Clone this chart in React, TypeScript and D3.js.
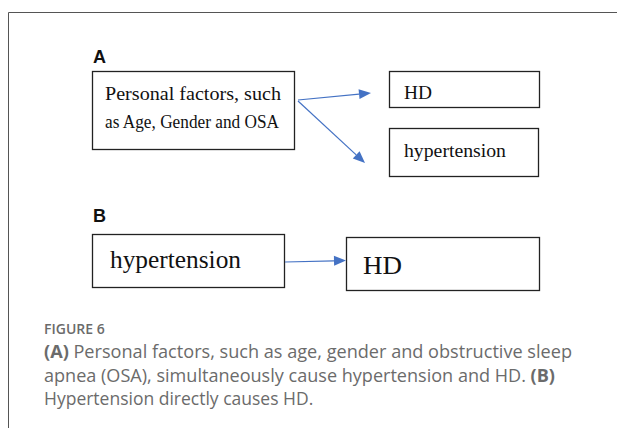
import React, { useEffect, useRef } from 'react';
import * as d3 from 'd3';

// diagram content
const panelLabels = ['A', 'B'];
const factorLines = ['Personal factors, such', 'as Age, Gender and OSA'];
const outcomeLabels = ['HD', 'hypertension'];
const panelBLabels = ['hypertension', 'HD'];
const figureTitle = 'FIGURE 6';
const captionLines = [
  [{ t: '(A)', b: true }, { t: ' Personal factors, such as age, gender and obstructive sleep', b: false }],
  [{ t: 'apnea (OSA), simultaneously cause hypertension and HD. ', b: false }, { t: '(B)', b: true }],
  [{ t: 'Hypertension directly causes HD.', b: false }],
];

// layout (pixels)
const W = 617;
const H = 428;
const BLUE = '#4472C4';
const INK = '#222';
const GREY = '#6b6b6b';

const App = () => {
  const svgRef = useRef<SVGSVGElement>(null);

  useEffect(() => {
    const svg = d3.select(svgRef.current);
    svg.selectAll('*').remove();

    // outer frame (top + left rule)
    svg.append('path')
      .attr('d', `M617,12.5H8.5V428`)
      .attr('fill', 'none')
      .attr('stroke', '#555')
      .attr('stroke-width', 1);

    // panel letters
    const labelY = [63, 222];
    svg.selectAll('.panel')
      .data(panelLabels)
      .enter()
      .append('text')
      .attr('x', 93)
      .attr('y', (d, i) => labelY[i])
      .attr('font-family', 'Liberation Sans, Arial, sans-serif')
      .attr('font-weight', 'bold')
      .attr('font-size', 18)
      .attr('fill', '#111')
      .text(d => d);

    const box = (x, y, w, h) => svg.append('rect')
      .attr('x', x).attr('y', y).attr('width', w).attr('height', h)
      .attr('fill', '#fff').attr('stroke', INK).attr('stroke-width', 1.3);

    const label = (s, x, y, size, len) => svg.append('text')
      .attr('x', x).attr('y', y)
      .attr('font-family', 'Liberation Serif, Times New Roman, serif')
      .attr('font-size', size)
      .attr('fill', '#111')
      .attr('textLength', len)
      .attr('lengthAdjust', 'spacingAndGlyphs')
      .text(s);

    // panel A
    box(92.5, 71.5, 202, 78);
    const factorY = [100, 128];
    const factorLen = [176, 174];
    factorLines.forEach((s, i) => label(s, 105, factorY[i], 18.5, factorLen[i]));

    box(389.5, 71.5, 150, 36);
    box(389.5, 128.5, 149, 48);
    label(outcomeLabels[0], 404, 99, 19, 28);
    label(outcomeLabels[1], 404, 157, 19, 102);

    // panel B
    box(92.5, 234.5, 192, 53);
    box(346.5, 237.5, 193, 53);
    label(panelBLabels[0], 110, 268, 25, 131);
    label(panelBLabels[1], 363, 274, 25, 39);

    // arrows
    const arrows = [
      [[298, 100], [371, 93]],
      [[298, 101], [365, 163]],
      [[285, 262], [346, 260.5]],
    ];
    const line = d3.line();
    arrows.forEach(([a, b]) => {
      const dx = b[0] - a[0];
      const dy = b[1] - a[1];
      const len = Math.hypot(dx, dy);
      const ux = dx / len;
      const uy = dy / len;
      const hl = 12;
      const hw = 5;
      const base = [b[0] - ux * hl, b[1] - uy * hl];
      svg.append('path')
        .attr('d', line([a, base]))
        .attr('fill', 'none')
        .attr('stroke', BLUE)
        .attr('stroke-width', 1.2);
      svg.append('path')
        .attr('d', line([
          b,
          [base[0] - uy * hw, base[1] + ux * hw],
          [base[0] + uy * hw, base[1] - ux * hw],
        ]) + 'Z')
        .attr('fill', BLUE);
    });

    // caption
    svg.append('text')
      .attr('x', 44)
      .attr('y', 334)
      .attr('font-family', 'Open Sans, sans-serif')
      .attr('font-weight', 600)
      .attr('font-size', 14)
      .attr('fill', GREY)
      .text(figureTitle);

    const capY = [358, 382, 405];
    const capLen = [528, 511, null];
    captionLines.forEach((parts, i) => {
      const t = svg.append('text')
        .attr('x', 44)
        .attr('y', capY[i])
        .attr('font-family', 'Open Sans, sans-serif')
        .attr('font-size', 17.5)
        .attr('fill', GREY);
      if (capLen[i]) t.attr('textLength', capLen[i]).attr('lengthAdjust', 'spacingAndGlyphs');
      parts.forEach(p => {
        t.append('tspan')
          .attr('font-weight', p.b ? 700 : 400)
          .text(p.t);
      });
    });
  }, []);

  return (
    <div style={{ position: 'fixed', left: 0, top: 0, width: W, height: H, background: '#fff' }}>
      <svg ref={svgRef} width={W} height={H}></svg>
    </div>
  );
};

export default App;
